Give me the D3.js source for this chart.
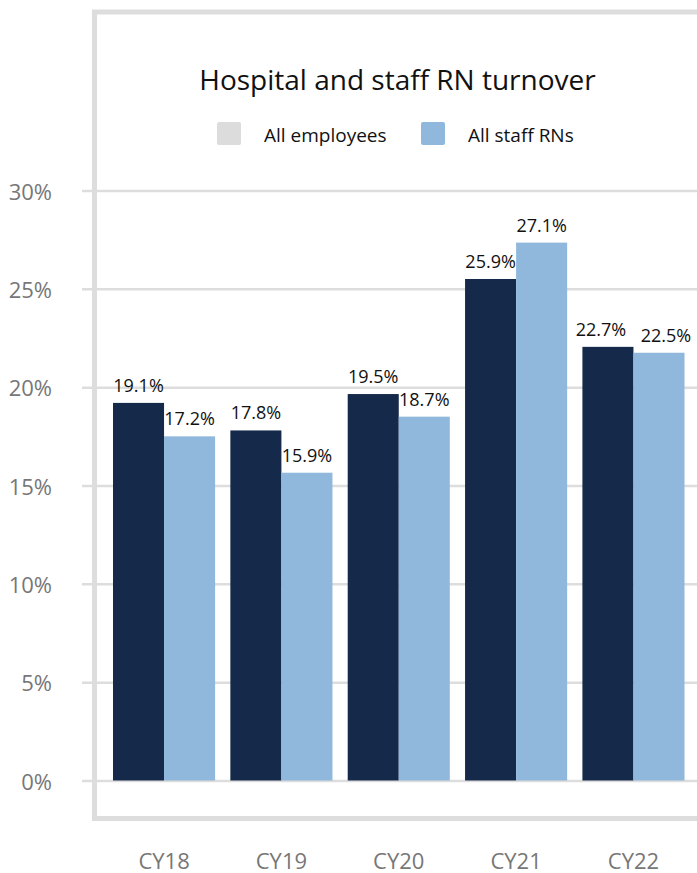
<!DOCTYPE html>
<html>
<head>
<meta charset="utf-8">
<script src="https://cdn.jsdelivr.net/npm/d3@7"></script>
<style>
  html, body { margin: 0; padding: 0; background: #fff; }
  svg { display: block; font-family: "Open Sans", sans-serif; }
</style>
</head>
<body>
<div id="chart"></div>
<script>
// Values (bar heights) and the printed labels
const years = ['CY18', 'CY19', 'CY20', 'CY21', 'CY22'];
const seriesNames = ['All employees', 'All staff RNs'];
const allEmployees = [19.2, 17.8, 19.65, 25.5, 22.05];
const allStaffRNs = [17.5, 15.65, 18.5, 27.35, 21.75];
const employeeLabels = ['19.1%', '17.8%', '19.5%', '25.9%', '22.7%'];
const rnLabels = ['17.2%', '15.9%', '18.7%', '27.1%', '22.5%'];
const yTicks = [0, 5, 10, 15, 20, 25, 30];

const width = 697, height = 873;
const barColors = ['#15294b', '#8fb8dc'];
const legendColors = ['#dcdcdc', '#8fb8dc'];

const svg = d3.select('#chart').append('svg')
    .attr('width', width)
    .attr('height', height);

// frame
svg.append('rect')
    .attr('x', 94.5).attr('y', 12)
    .attr('width', 640).attr('height', 806.5)
    .attr('fill', 'none')
    .attr('stroke', '#dddddd')
    .attr('stroke-width', 5);

const x = d3.scaleBand()
    .domain(years)
    .range([113, 684.5])
    .paddingInner(0.13)
    .paddingOuter(0);

const xSub = d3.scaleBand()
    .domain(seriesNames)
    .range([0, x.bandwidth()]);

const y = d3.scaleLinear()
    .domain([0, 30])
    .range([780.5, 190.5]);

// gridlines + y labels
const yAxis = svg.append('g')
    .attr('transform', 'translate(82,0)')
    .call(d3.axisRight(y)
        .tickValues(yTicks)
        .tickSize(width)
        .tickFormat(d => d + '%'));
yAxis.select('.domain').remove();
yAxis.selectAll('.tick line')
    .attr('stroke', '#dddddd')
    .attr('stroke-width', 2.5);
yAxis.selectAll('.tick text')
    .attr('x', -30)
    .attr('dy', '0.4em')
    .attr('text-anchor', 'end')
    .attr('fill', '#777')
    .style('font-size', '22px')
    .style('font-family', '"Open Sans", sans-serif');

// bars
const rows = years.map((yr, i) => ({
    year: yr,
    bars: [
        { key: seriesNames[0], value: allEmployees[i], label: employeeLabels[i], color: barColors[0] },
        { key: seriesNames[1], value: allStaffRNs[i], label: rnLabels[i], color: barColors[1] }
    ]
}));

const group = svg.append('g').selectAll('g')
    .data(rows)
    .join('g')
    .attr('transform', d => `translate(${x(d.year)},0)`);

group.selectAll('rect')
    .data(d => d.bars)
    .join('rect')
    .attr('x', d => xSub(d.key))
    .attr('y', d => y(d.value))
    .attr('width', xSub.bandwidth())
    .attr('height', d => y(0) - y(d.value))
    .attr('fill', d => d.color);

// labels that sit at nearly the same height get nudged apart
function labelShift(d, i, nodes) {
    const bars = d3.select(nodes[i].parentNode).datum().bars;
    const gap = Math.abs(y(bars[0].value) - y(bars[1].value));
    if (gap > 18) return 0;
    return i === 0 ? -7 : 7;
}

group.selectAll('text')
    .data(d => d.bars)
    .join('text')
    .attr('x', function (d, i, nodes) {
        return xSub(d.key) + xSub.bandwidth() / 2 + labelShift(d, i, nodes);
    })
    .attr('y', d => y(d.value) - 11)
    .attr('text-anchor', 'middle')
    .attr('fill', '#111')
    .style('font-size', '18px')
    .text(d => d.label);

// x labels
const xAxis = svg.append('g')
    .attr('transform', 'translate(0,869)')
    .call(d3.axisBottom(x).tickSize(0).tickPadding(0));
xAxis.select('.domain').remove();
xAxis.selectAll('.tick text')
    .attr('dy', 0)
    .attr('fill', '#777')
    .style('font-size', '22px')
    .style('font-family', '"Open Sans", sans-serif');

// title
svg.append('text')
    .attr('x', 397.5)
    .attr('y', 90)
    .attr('text-anchor', 'middle')
    .attr('fill', '#111')
    .style('font-size', '28px')
    .text('Hospital and staff RN turnover');

// legend
const legendX = [217, 421];
const legend = svg.append('g').selectAll('g')
    .data(seriesNames)
    .join('g')
    .attr('transform', (d, i) => `translate(${legendX[i]},122)`);
legend.append('rect')
    .attr('width', 24).attr('height', 23)
    .attr('rx', 2)
    .attr('fill', (d, i) => legendColors[i]);
legend.append('text')
    .attr('x', 47)
    .attr('y', 20)
    .attr('fill', '#111')
    .style('font-size', '19px')
    .text(d => d);
</script>
</body>
</html>
